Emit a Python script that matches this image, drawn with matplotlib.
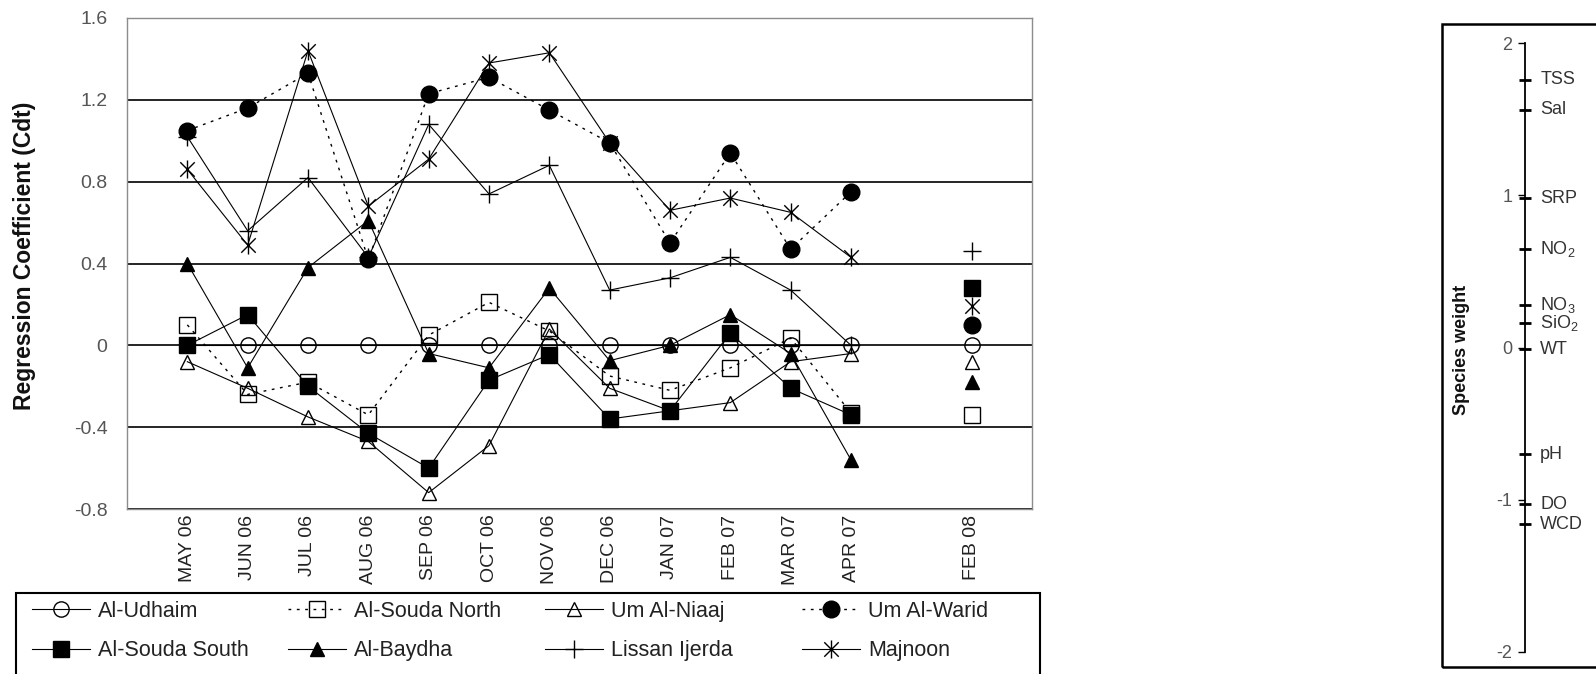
import numpy as np
import matplotlib
matplotlib.use("Agg")
import matplotlib.pyplot as plt
from matplotlib.path import Path
from matplotlib.patches import Rectangle

plt.rcParams["font.family"] = ["Liberation Sans", "DejaVu Sans"]
plt.rcParams["mathtext.fontset"] = "custom"
plt.rcParams["mathtext.rm"] = "Liberation Sans"
plt.rcParams["mathtext.it"] = "Liberation Sans:italic"
plt.rcParams["mathtext.bf"] = "Liberation Sans:bold"

# ---- sampling dates (slot 12 left empty between APR 07 and FEB 08) ----
months = ["MAY 06", "JUN 06", "JUL 06", "AUG 06", "SEP 06", "OCT 06",
          "NOV 06", "DEC 06", "JAN 07", "FEB 07", "MAR 07", "APR 07",
          "", "FEB 08"]
nan = np.nan

# ---- regression coefficients (Cdt) per station ----
al_udhaim = [0, 0, 0, 0, 0, 0, 0, 0, 0, 0, 0, 0, nan, 0]
al_souda_north = [0.10, -0.24, -0.18, -0.34, 0.05, 0.21, 0.07, -0.15,
                  -0.22, -0.11, 0.035, -0.33, nan, -0.34]
um_al_niaaj = [-0.08, -0.21, -0.35, -0.47, -0.72, -0.49, 0.08, -0.21,
               -0.32, -0.28, -0.08, -0.04, nan, -0.08]
um_al_warid = [1.05, 1.16, 1.33, 0.42, 1.23, 1.31, 1.15, 0.99,
               0.50, 0.94, 0.47, 0.75, nan, 0.10]
al_souda_south = [0.0, 0.15, -0.20, -0.43, -0.60, -0.17, -0.045, -0.36,
                  -0.32, 0.06, -0.21, -0.34, nan, 0.28]
al_baydha = [0.40, -0.11, 0.38, 0.61, -0.04, -0.11, 0.28, -0.075,
             0.0, 0.15, -0.04, -0.56, nan, -0.18]
lissan_ijerda = [1.02, 0.56, 0.82, 0.43, 1.08, 0.74, 0.88, 0.27,
                 0.33, 0.43, 0.27, 0.0, nan, 0.46]
majnoon = [0.86, 0.49, 1.44, 0.68, 0.91, 1.38, 1.43, 0.99,
           0.66, 0.72, 0.65, 0.43, nan, 0.19]

y_ticks = [-0.8, -0.4, 0, 0.4, 0.8, 1.2, 1.6]
y_tick_labels = ["-0.8", "-0.4", "0", "0.4", "0.8", "1.2", "1.6"]

# ---- species weights of environmental variables ----
variables = ["TSS", "Sal", "SRP", "NO$_\\mathregular{2}$", "NO$_\\mathregular{3}$",
             "SiO$_\\mathregular{2}$", "WT", "pH", "DO", "WCD"]
weights = [1.76, 1.56, 0.98, 0.65, 0.28, 0.16, -0.01, -0.70, -1.03, -1.16]
weight_ticks = [-2, -1, 0, 1, 2]

W, H = 1596, 674
fig = plt.figure(figsize=(W / 100, H / 100), dpi=100)

# asterisk marker: vertical bar plus an X
d = 0.8
star = Path([(0, -1), (0, 1), (-d, -d), (d, d), (-d, d), (d, -d)],
            [Path.MOVETO, Path.LINETO, Path.MOVETO, Path.LINETO,
             Path.MOVETO, Path.LINETO])

dotted = (0, (2, 4))
series = [
    ("Al-Udhaim", al_udhaim, dict(marker="o", ms=11, mfc="none", ls="-")),
    ("Al-Souda North", al_souda_north, dict(marker="s", ms=11, mfc="none", ls=dotted, lw=1.0)),
    ("Um Al-Niaaj", um_al_niaaj, dict(marker="^", ms=9.5, mfc="none", ls="-")),
    ("Um Al-Warid", um_al_warid, dict(marker="o", ms=12, mfc="black", ls=dotted, lw=1.0)),
    ("Al-Souda South", al_souda_south, dict(marker="s", ms=12, mfc="black", ls="-")),
    ("Al-Baydha", al_baydha, dict(marker="^", ms=9.5, mfc="black", ls="-")),
    ("Lissan Ijerda", lissan_ijerda, dict(marker="+", ms=13, ls="-")),
    ("Majnoon", majnoon, dict(marker=star, ms=13, ls="-")),
]

ax = fig.add_axes([127 / W, 1 - 509 / H, (1032 - 127) / W, (509 - 18) / H])
x = np.arange(len(months))
handles = {}
for name, vals, st in series:
    kw = dict(color="black", mec="black", mew=1.0, lw=0.8)
    kw.update(st)
    (ln,) = ax.plot(x, vals, label=name, clip_on=False, **kw)
    handles[name] = ln

ax.set_xlim(-1, 14)
ax.set_ylim(-0.8, 1.6)
ax.set_yticks(y_ticks)
ax.set_yticklabels(y_tick_labels)
ax.set_xticks(x)
ax.set_xticklabels(months, rotation=90)
ax.tick_params(axis="y", length=0, pad=14, labelsize=14, labelcolor="#555555")
ax.tick_params(axis="x", length=0, pad=4, labelsize=14, labelcolor="#222222")
ax.grid(axis="y", color="black", lw=1.2)
ax.set_axisbelow(True)
for s in ax.spines.values():
    s.set_color("#8c8c8c")
    s.set_linewidth(1.0)

fig.text(25 / W, 1 - 256 / H, "Regression Coefficient (Cdt)", rotation=90,
         ha="center", va="center", fontsize=16.5, fontweight="bold", color="#111111")

# legend: four columns of two rows inside one box
fig.add_artist(Rectangle((16 / W, 1 - 700 / H), (1040 - 16) / W, (700 - 593) / H,
                         transform=fig.transFigure, fill=False, ec="black",
                         lw=1.5, clip_on=False))
columns = [(32, ["Al-Udhaim", "Al-Souda South"]),
           (288, ["Al-Souda North", "Al-Baydha"]),
           (545, ["Um Al-Niaaj", "Lissan Ijerda"]),
           (802, ["Um Al-Warid", "Majnoon"])]
for xpix, names in columns:
    leg = fig.legend([handles[n] for n in names], names, loc="upper left",
                     bbox_to_anchor=(xpix / W, 1 - 601 / H), frameon=False,
                     fontsize=15.5, handlelength=2.7, handletextpad=0.37,
                     labelspacing=0.85, borderpad=0, borderaxespad=0, numpoints=1)
    for t in leg.get_texts():
        t.set_color("#222222")

# ---- species weight scale ----
fig.add_artist(Rectangle((1442 / W, 1 - 667 / H), (1700 - 1442) / W, (667 - 24) / H,
                         transform=fig.transFigure, fill=False, ec="black",
                         lw=1.8, clip_on=False))
axr = fig.add_axes([1525 / W, 1 - 652 / H, 40 / W, (652 - 43) / H])
axr.set_ylim(-2, 2)
axr.set_xlim(0, 1)
for k in ["top", "right", "bottom"]:
    axr.spines[k].set_visible(False)
axr.spines["left"].set_linewidth(1.3)
axr.patch.set_visible(False)
axr.set_xticks([])
axr.set_yticks(weight_ticks)
axr.set_yticklabels([str(v) for v in weight_ticks])
axr.tick_params(axis="y", direction="out", length=5, width=1, pad=4,
                labelsize=13, labelcolor="#555555")
tr = axr.get_yaxis_transform()
axr.plot(np.zeros(len(weights)), weights, ls="none", marker="_", ms=8, mew=2,
         color="black", transform=tr, clip_on=False)
for name, w in zip(variables, weights):
    axr.annotate(name, xy=(0, w), xycoords=tr, xytext=(11, 0),
                 textcoords="offset points", ha="left", va="center",
                 fontsize=13, color="#333333")

fig.text(1462 / W, 1 - 350 / H, "Species weight", rotation=90, ha="center",
         va="center", fontsize=13, fontweight="bold", color="#111111")

fig.savefig("out.png", dpi=100)
